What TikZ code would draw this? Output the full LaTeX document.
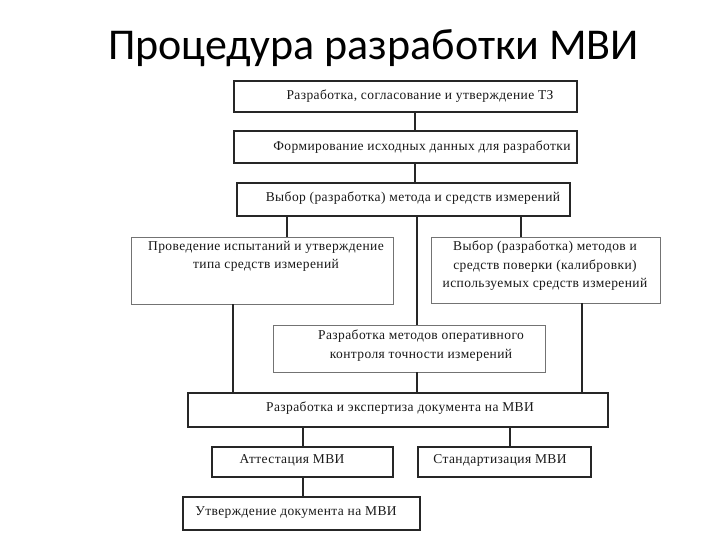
\documentclass[tikz,border=0pt]{standalone}
\usepackage{fontspec}
\setmainfont{Liberation Serif}[LetterSpace=3]
\newfontfamily\titlefont{Carlito}
\begin{document}
\begin{tikzpicture}[x=1pt,y=-1pt,
  box/.style={draw=black!85,line width=1.4pt,rectangle,inner sep=0pt,fill=white},
  lightbox/.style={draw=black!55,line width=0.9pt,rectangle,inner sep=0pt,fill=white},
  txt/.style={font=\fontsize{13.5}{18.5}\selectfont,text=black!90,align=center,inner sep=0pt},
  conn/.style={draw=black!85,line width=1.4pt}]
\fill[white] (0,0) rectangle (720,540);
\useasboundingbox (0,0) rectangle (720,540);
\node[anchor=base west,inner sep=0pt,font=\titlefont\fontsize{44}{50}\selectfont] (title) at (108,60) {Процедура разработки МВИ};

\coordinate (xa) at (415,0);
\coordinate (xl) at (287,0);
\coordinate (xc) at (417,0);
\coordinate (xr) at (521,0);
\coordinate (x4) at (233,0);
\coordinate (x5) at (582,0);
\coordinate (x7l) at (303,0);
\coordinate (x7r) at (510,0);

\node[box,minimum width=343,minimum height=31] (b1) at (405.5,96.5) {};
\node[box,minimum width=343,minimum height=32] (b2) at (405.5,147) {};
\node[box,minimum width=333,minimum height=33] (b3) at (403.5,199.5) {};
\node[lightbox,minimum width=262,minimum height=67] (b4) at (262,270.5) {};
\node[lightbox,minimum width=229,minimum height=66] (b5) at (545.5,270) {};
\node[lightbox,minimum width=272,minimum height=47] (b6) at (409,348.5) {};
\node[box,minimum width=420,minimum height=34] (b7) at (398,410) {};
\node[box,minimum width=181,minimum height=30] (b8) at (302.5,462) {};
\node[box,minimum width=173,minimum height=30] (b9) at (504.5,462) {};
\node[box,minimum width=237,minimum height=33] (b10) at (301.5,513.5) {};

\node[txt] (t1) at (420,96.5) {Разработка, согласование и утверждение ТЗ};
\node[txt] (t2) at (422,147) {Формирование исходных данных для разработки};
\node[txt] (t3) at (413,198) {Выбор (разработка) метода и средств измерений};
\node[txt,anchor=north] (t4) at (266,241) {Проведение испытаний и утверждение\\типа средств измерений};
\node[txt,anchor=north] (t5) at (545,241) {Выбор (разработка) методов и\\средств поверки (калибровки)\\используемых средств измерений};
\node[txt,anchor=north] (t6) at (421,330) {Разработка методов оперативного\\контроля точности измерений};
\node[txt] (t7) at (400,408) {Разработка и экспертиза документа на МВИ};
\node[txt] (t8) at (292,460) {Аттестация МВИ};
\node[txt] (t9) at (500,460) {Стандартизация МВИ};
\node[txt] (t10) at (296,513) {Утверждение документа на МВИ};

\draw[conn] (b1.south -| xa) -- (b2.north -| xa);
\draw[conn] (b2.south -| xa) -- (b3.north -| xa);
\draw[conn] (b3.south -| xl) -- (b4.north -| xl);
\draw[conn] (b3.south -| xc) -- (b6.north -| xc);
\draw[conn] (b3.south -| xr) -- (b5.north -| xr);
\draw[conn] (b4.south -| x4) -- (b7.north -| x4);
\draw[conn] (b5.south -| x5) -- (b7.north -| x5);
\draw[conn] (b6.south -| xc) -- (b7.north -| xc);
\draw[conn] (b7.south -| x7l) -- (b8.north -| x7l);
\draw[conn] (b7.south -| x7r) -- (b9.north -| x7r);
\draw[conn] (b8.south -| x7l) -- (b10.north -| x7l);
\end{tikzpicture}
\end{document}
